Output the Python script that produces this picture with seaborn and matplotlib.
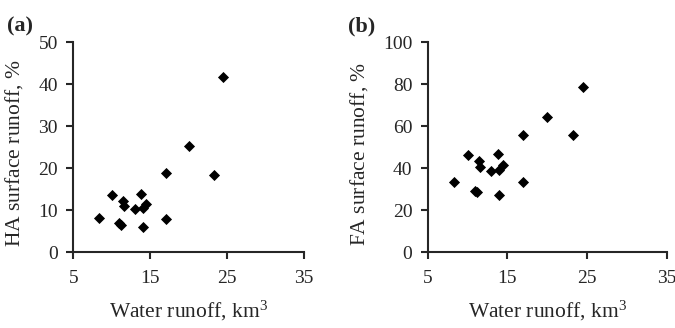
import pandas as pd
import matplotlib
matplotlib.use("Agg")
import matplotlib.pyplot as plt
import seaborn as sns

sns.set_style("ticks")
plt.rcParams["font.family"] = ["Liberation Serif", "DejaVu Serif"]
plt.rcParams["mathtext.fontset"] = "custom"
plt.rcParams["mathtext.rm"] = "Liberation Serif"
plt.rcParams["mathtext.it"] = "Liberation Serif:italic"

# water runoff, km3 (same for both panels)
water = [8.3, 10.0, 11.0, 11.2, 11.4, 11.6, 13.0, 13.8, 14.0, 14.0, 14.4, 17.0, 17.0, 20.0, 23.3, 24.5]
ha = [8.2, 13.6, 6.9, 6.5, 12.2, 11.0, 10.2, 13.9, 10.5, 6.0, 11.4, 18.9, 8.0, 25.3, 18.3, 41.7]
fa = [33.3, 46.2, 29.3, 28.6, 43.5, 40.6, 38.7, 46.7, 39.2, 27.1, 41.7, 55.7, 33.3, 64.6, 55.7, 78.6]

df = pd.DataFrame({"water": water, "ha": ha, "fa": fa})

fig = plt.figure(figsize=(6.75, 3.28), dpi=100)
ax1 = fig.add_axes([0.1086, 0.2308, 0.342, 0.640])
ax2 = fig.add_axes([0.6336, 0.2308, 0.354, 0.640])

panels = [
    (ax1, "ha", "HA surface runoff, ", [0, 10, 20, 30, 40, 50], "(a)", 0.010, -0.209),
    (ax2, "fa", "FA surface runoff, ", [0, 20, 40, 60, 80, 100], "(b)", 0.515, -0.241),
]

for ax, col, ylab, yt, tag, tx, lx in panels:
    sns.scatterplot(data=df, x="water", y=col, ax=ax, marker="D", s=32,
                    color="black", edgecolor="black", linewidth=0)
    ax.set_xlim(5, 35)
    ax.set_ylim(yt[0], yt[-1])
    ax.set_xticks([5, 15, 25, 35])
    ax.set_yticks(yt)
    ax.tick_params(labelsize=14, width=1.5, length=5, direction="out")
    ax.tick_params(axis="x", pad=8)
    ax.tick_params(axis="y", pad=6)
    for s in ["left", "bottom"]:
        ax.spines[s].set_linewidth(1.5)
    sns.despine(ax=ax)
    ax.set_xlabel("Water runoff, km$^3$", fontsize=15.5, labelpad=8)
    ax.set_ylabel(ylab + "$\\mathit{\\%}$", fontsize=15.5)
    ax.yaxis.set_label_coords(lx, 0.47)
    fig.text(tx, 0.905, tag, fontsize=16, fontweight="bold")

fig.savefig("out.png", dpi=100)
